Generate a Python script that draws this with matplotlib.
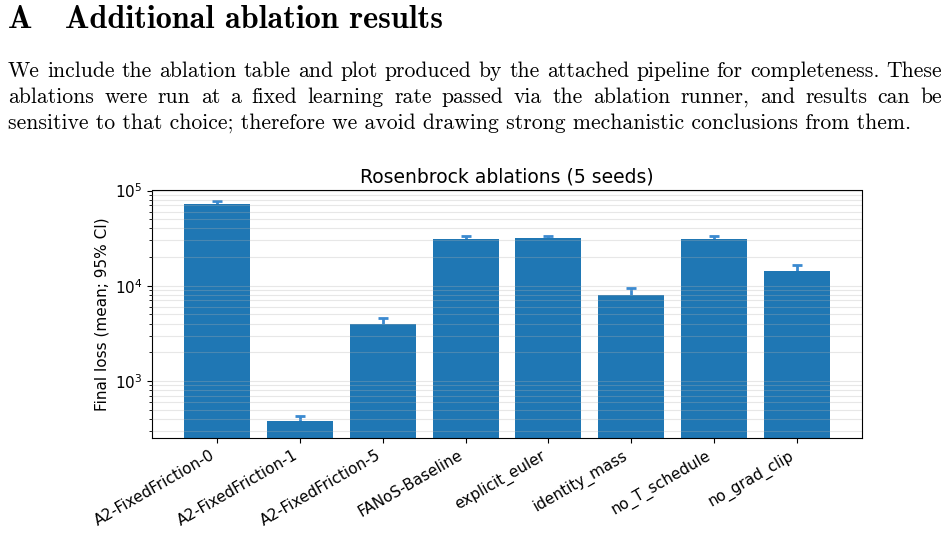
import numpy as np
import matplotlib
matplotlib.use("Agg")
import matplotlib.pyplot as plt

# ablation results (final loss, mean and 95% CI half-width)
variants = ["A2-FixedFriction-0", "A2-FixedFriction-1", "A2-FixedFriction-5",
            "FANoS-Baseline", "explicit_euler", "identity_mass",
            "no_T_schedule", "no_grad_clip"]
mean_loss = [71300, 381, 4000, 30700, 31400, 8050, 30700, 14360]
ci_halfwidth = [6000, 49, 590, 2300, 1800, 1320, 2300, 2240]

heading_num = "A"
heading_text = "Additional ablation results"
para_lines = [
    "We include the ablation table and plot produced by the attached pipeline for completeness. These",
    "ablations were run at a fixed learning rate passed via the ablation runner, and results can be",
    "sensitive to that choice; therefore we avoid drawing strong mechanistic conclusions from them.",
]

W, H = 949, 538
fig = plt.figure(figsize=(W / 100, H / 100), dpi=100)
renderer = fig.canvas.get_renderer()


def px(x, y):
    return x / W, 1 - y / H


def width_of(s, size, family):
    t = fig.text(0, 0, s, fontsize=size, family=family)
    w = t.get_window_extent(renderer).width
    t.remove()
    return w


# heading
hsize = 10 * 376 / width_of(heading_text, 10, "cmb10")
fig.text(*px(8, 28), heading_num, fontsize=hsize, family="cmb10", va="baseline")
fig.text(*px(65, 28), heading_text, fontsize=hsize, family="cmb10", va="baseline")

# paragraph, justified like the page
psize = 10 * 900 / width_of(para_lines[-1], 10, "cmr10")
baselines = [77, 103, 129]
for i, line in enumerate(para_lines):
    y = baselines[i]
    if i == len(para_lines) - 1:
        fig.text(*px(8, y), line, fontsize=psize, family="cmr10", va="baseline")
        continue
    words = line.split()
    widths = [width_of(w, psize, "cmr10") for w in words]
    gap = (942 - 8 - sum(widths)) / (len(words) - 1)
    x = 8
    for w, wd in zip(words, widths):
        fig.text(*px(x, y), w, fontsize=psize, family="cmr10", va="baseline")
        x += wd + gap

# chart
ax = fig.add_axes([152 / W, 1 - 438 / H, (862 - 152) / W, (438 - 190.5) / H])
x = np.arange(len(variants))
# error bars sit behind the bars, only the upper whisker shows
ax.errorbar(x, mean_loss, yerr=ci_halfwidth, fmt="none", ecolor="#3b8ad0",
            elinewidth=2, capsize=3.5, capthick=2, zorder=0.5)
ax.bar(x, mean_loss, width=0.8, color="#1f77b4", zorder=1)
ax.set_yscale("log")
ax.set_ylim(252, 1e5)
ax.set_axisbelow(False)
ax.grid(True, which="both", axis="y", alpha=0.3)
ax.set_xticks(x)
ax.set_xticklabels(variants, rotation=30, ha="right", fontsize=11)
ax.tick_params(axis="y", labelsize=11)
ax.set_ylabel("Final loss (mean; 95% CI)", fontsize=11)
ax.set_title("Rosenbrock ablations (5 seeds)", fontsize=13.5)

fig.savefig("out.png", dpi=100)
